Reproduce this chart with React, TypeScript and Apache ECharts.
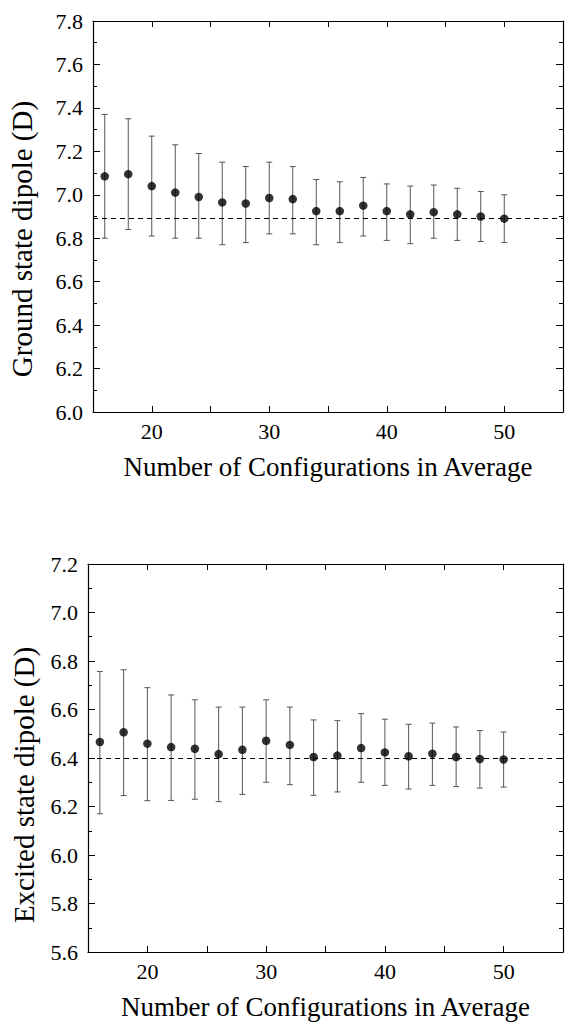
import React, { useEffect, useRef } from "react";
import * as echarts from "echarts";

// ---- data ----
const configCounts = [16, 18, 20, 22, 24, 26, 28, 30, 32, 34, 36, 38, 40, 42, 44, 46, 48, 50];

const groundMean = [7.085, 7.095, 7.04, 7.01, 6.99, 6.965, 6.96, 6.985, 6.98, 6.925, 6.925, 6.95, 6.925, 6.91, 6.92, 6.91, 6.90, 6.89];
const groundHigh = [7.37, 7.35, 7.27, 7.23, 7.19, 7.15, 7.13, 7.15, 7.13, 7.07, 7.06, 7.08, 7.05, 7.04, 7.045, 7.03, 7.015, 7.0];
const groundLow = [6.80, 6.84, 6.81, 6.80, 6.80, 6.77, 6.78, 6.82, 6.82, 6.77, 6.78, 6.81, 6.79, 6.775, 6.80, 6.79, 6.785, 6.78];
const groundRef = 6.895;

const excitedMean = [6.466, 6.506, 6.459, 6.445, 6.438, 6.416, 6.434, 6.471, 6.454, 6.404, 6.41, 6.441, 6.423, 6.407, 6.418, 6.404, 6.396, 6.394];
const excitedHigh = [6.757, 6.764, 6.69, 6.66, 6.64, 6.61, 6.61, 6.64, 6.61, 6.557, 6.554, 6.583, 6.56, 6.539, 6.544, 6.528, 6.513, 6.507];
const excitedLow = [6.17, 6.245, 6.224, 6.225, 6.23, 6.22, 6.25, 6.30, 6.29, 6.246, 6.26, 6.30, 6.287, 6.272, 6.287, 6.282, 6.276, 6.28];
const excitedRef = 6.40;

const xTickLabels = [20, 30, 40, 50];

const xTitle = "Number of Configurations in Average";
const groundTitle = "Ground state dipole (D)";
const excitedTitle = "Excited state dipole (D)";

const FONT = '"Liberation Serif", "Times New Roman", "DejaVu Serif", serif';
const INK = "#000";

function errorItem(params: any, api: any) {
  const x = api.value(0);
  const lo = api.coord([x, api.value(1)]);
  const hi = api.coord([x, api.value(2)]);
  const cw = 3;
  const style = { stroke: "#555", lineWidth: 1 };
  return {
    type: "group",
    children: [
      { type: "line", shape: { x1: hi[0], y1: hi[1], x2: lo[0], y2: lo[1] }, style },
      { type: "line", shape: { x1: hi[0] - cw, y1: hi[1], x2: hi[0] + cw, y2: hi[1] }, style },
      { type: "line", shape: { x1: lo[0] - cw, y1: lo[1], x2: lo[0] + cw, y2: lo[1] }, style },
    ],
  };
}

function xAxes(gridIndex: number) {
  const common = {
    type: "value",
    gridIndex,
    min: 15,
    max: 55,
    interval: 5,
    splitLine: { show: false },
    axisLine: { show: true, onZero: false, lineStyle: { color: INK, width: 1.2 } },
    axisTick: { show: true, inside: true, length: 6, lineStyle: { color: INK } },
  };
  return [
    {
      ...common,
      position: "bottom",
      axisLabel: {
        show: true,
        margin: 8,
        color: INK,
        fontFamily: FONT,
        fontSize: 22,
        formatter: (v: number) => (xTickLabels.indexOf(v) >= 0 ? String(v) : ""),
      },
      name: xTitle,
      nameLocation: "middle",
      nameGap: 41,
      nameTextStyle: { color: INK, fontFamily: FONT, fontSize: 27 },
    },
    { ...common, position: "top", axisLabel: { show: false } },
  ];
}

function yAxes(gridIndex: number, min: number, max: number) {
  const common = {
    type: "value",
    gridIndex,
    min,
    max,
    interval: 0.2,
    splitLine: { show: false },
    axisLine: { show: true, onZero: false, lineStyle: { color: INK, width: 1.2 } },
    axisTick: { show: true, inside: true, length: 7, lineStyle: { color: INK } },
    minorTick: { show: true, splitNumber: 2, length: 4, lineStyle: { color: INK } },
  };
  return [
    {
      ...common,
      position: "left",
      axisLabel: {
        show: true,
        margin: 10,
        color: INK,
        fontFamily: FONT,
        fontSize: 22,
        formatter: (v: number) => v.toFixed(1),
      },
    },
    { ...common, position: "right", axisLabel: { show: false } },
  ];
}

function seriesFor(idx: number, mean: number[], low: number[], high: number[], ref: number) {
  const xi = idx * 2;
  const yi = idx * 2;
  return [
    {
      type: "custom",
      xAxisIndex: xi,
      yAxisIndex: yi,
      renderItem: errorItem,
      encode: { x: 0, y: [1, 2] },
      data: configCounts.map((x, i) => [x, low[i], high[i]]),
      z: 2,
    },
    {
      type: "scatter",
      xAxisIndex: xi,
      yAxisIndex: yi,
      symbol: "circle",
      symbolSize: 8.5,
      itemStyle: { color: INK },
      data: configCounts.map((x, i) => [x, mean[i]]),
      z: 3,
      markLine: {
        silent: true,
        symbol: ["none", "none"],
        label: { show: false },
        lineStyle: { color: INK, type: [5, 4], width: 1 },
        data: [{ yAxis: ref }],
      },
    },
  ];
}

function yTitle(text: string, x: number, y: number) {
  return {
    type: "text",
    x,
    y,
    rotation: Math.PI / 2,
    style: {
      text,
      fill: INK,
      font: `29px ${FONT}`,
      align: "center",
      verticalAlign: "middle",
    },
  };
}

export default function App() {
  const ref = useRef<HTMLDivElement>(null);
  useEffect(() => {
    if (!ref.current) return;
    const chart = echarts.init(ref.current, undefined, { renderer: "svg" });
    const option: any = {
      animation: false,
      backgroundColor: "#fff",
      textStyle: { fontFamily: FONT },
      grid: [
        { left: 93, top: 21, width: 470, height: 391 },
        { left: 88, top: 564, width: 475, height: 388 },
      ],
      xAxis: [...xAxes(0), ...xAxes(1)],
      yAxis: [...yAxes(0, 6.0, 7.8), ...yAxes(1, 5.6, 7.2)],
      graphic: [yTitle(groundTitle, 22, 239), yTitle(excitedTitle, 24, 785)],
      series: [
        ...seriesFor(0, groundMean, groundLow, groundHigh, groundRef),
        ...seriesFor(1, excitedMean, excitedLow, excitedHigh, excitedRef),
      ],
    };
    chart.setOption(option);
    return () => chart.dispose();
  }, []);
  return (
    <div
      ref={ref}
      style={{ position: "absolute", left: 0, top: 0, width: 566, height: 1022, background: "#fff" }}
    />
  );
}
